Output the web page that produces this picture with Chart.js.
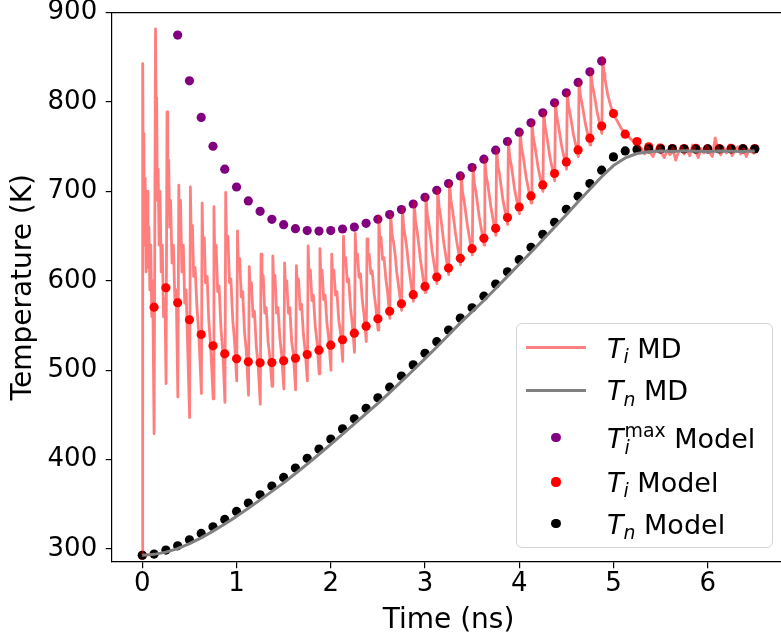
<!DOCTYPE html>
<html>
<head>
<meta charset="utf-8">
<script src="https://cdn.jsdelivr.net/npm/chart.js@4.4.0/dist/chart.umd.min.js"></script>
<style>
  html, body { margin: 0; padding: 0; background: #fff; overflow: hidden; }
  #wrap { position: relative; width: 781px; height: 641px; overflow: hidden; }
  #chart { position: absolute; left: 0; top: 0; }
  #legend {
    position: absolute; left: 516px; top: 323px; width: 257px; height: 225px;
    box-sizing: border-box; border: 1.3px solid #d4d4d4; border-radius: 6px;
    background: rgba(255, 255, 255, 0.8);
    font-family: "DejaVu Sans"; font-size: 27px; color: #000; z-index: 2;
  }
  .txt { position: absolute; left: 90px; line-height: 27px; white-space: nowrap; }
  .txt i { font-style: italic; }
  .sub { position: relative; top: 0.28em; font-size: 0.7em; font-style: italic; }
  .stack { position: relative; margin-left: 1px; }
  .stack .sup { position: relative; top: -0.55em; font-size: 0.7em; }
  .stack .under { position: absolute; left: 0; top: 15px; font-size: 0.7em; font-style: italic; line-height: 1; }
  .hline { position: absolute; left: 9px; width: 60px; height: 2.8px; }
  .dot { position: absolute; left: 34.4px; width: 9.2px; height: 9.2px; border-radius: 50%; }
</style>
</head>
<body>
<div id="wrap">
  <canvas id="chart" width="790" height="641"></canvas>
  <div id="legend">
    <div class="hline" style="top:22.3px; background:#ff8080;"></div>
    <div class="txt" style="top:10.7px;"><i>T</i><span class="sub">i</span> MD</div>

    <div class="hline" style="top:64.8px; height:3px; background:#808080;"></div>
    <div class="txt" style="top:53.3px;"><i>T</i><span class="sub">n</span> MD</div>

    <div class="dot" style="top:109.1px; background:#800080;"></div>
    <div class="txt" style="top:100.7px;"><i>T</i><span class="stack"><span class="sup">max</span><span class="under">i</span></span> Model</div>

    <div class="dot" style="top:153.4px; background:#ff0000;"></div>
    <div class="txt" style="top:145px;"><i>T</i><span class="sub">i</span> Model</div>

    <div class="dot" style="top:195.1px; background:#000;"></div>
    <div class="txt" style="top:186.7px;"><i>T</i><span class="sub">n</span> Model</div>
  </div>
</div>
<script>
// time axis of the model (ns)
const modelTime = [
  0, 0.125, 0.25, 0.375, 0.5, 0.625, 0.75, 0.875, 1.0, 1.125, 1.25, 1.375, 1.5, 1.625,
  1.75, 1.875, 2.0, 2.125, 2.25, 2.375, 2.5, 2.625, 2.75, 2.875, 3.0, 3.125, 3.25, 3.375,
  3.5, 3.625, 3.75, 3.875, 4.0, 4.125, 4.25, 4.375, 4.5, 4.625, 4.75, 4.875, 5.0, 5.125,
  5.25, 5.375, 5.5, 5.625, 5.75, 5.875, 6.0, 6.125, 6.25, 6.375, 6.5
];

// model temperatures (K)
const tnModel = [
  293, 294.3, 298.8, 303.6, 310.3, 317.4, 324.9, 333.1, 342.0, 351.4, 360.7, 370.5, 380.1, 390.6,
  401.4, 411.9, 423.1, 434.4, 445.6, 457.4, 469.1, 481.0, 493.5, 506.0, 519.0, 532.0, 545.0, 558.3,
  569.9, 582.9, 596.4, 610.2, 623.7, 637.5, 652.0, 665.5, 680.1, 694.6, 708.8, 723.8, 738.7, 745.4,
  747.0, 747.6, 747.4, 747.8, 747.5, 747.3, 747.6, 747.5, 747.4, 747.7, 747.5
];
const tiModel = [
  293, 570.6, 592.3, 575.5, 556.5, 540.0, 527.3, 518.4, 512.8, 509.4, 508.3, 508.6, 510.5, 513.4,
  517.6, 522.4, 528.0, 534.1, 541.5, 549.3, 557.6, 566.0, 574.4, 584.5, 593.8, 604.2, 614.3, 625.2,
  636.0, 647.6, 658.8, 670.8, 682.6, 695.0, 707.3, 720.1, 733.1, 746.5, 759.6, 773.2, 787.2, 764.1,
  755.8, 750.0, 748.5, 748.0, 748.0, 748.3, 747.8, 748.0, 748.2, 747.9, 748.0
];
const tiMaxModel = [
  null, null, null, 875.0, 823.8, 782.8, 750.6, 724.9, 705.0, 689.4, 677.8, 668.8, 662.9, 658.4,
  656.2, 655.7, 656.2, 658.0, 660.2, 664.4, 668.9, 674.1, 679.7, 686.0, 693.5, 701.3, 708.8, 717.4,
  726.8, 736.1, 746.2, 755.9, 766.3, 776.8, 788.0, 799.2, 810.4, 822.0, 833.9, 845.9, null, null,
  null, null, null, null, null, null, null, null, null, null, null
];

// MD neutral temperature, sampled on the model times (K)
const tnMd = [
  293, 294.0, 296.5, 300.5, 306.0, 312.5, 320.0, 328.0, 336.5, 345.5, 355.0, 364.5, 374.0, 384.5,
  395.0, 406.0, 417.0, 428.5, 440.0, 451.5, 463.0, 475.0, 487.5, 500.0, 513.0, 526.0, 539.5, 553.0,
  565.5, 578.0, 591.5, 605.0, 618.5, 632.0, 646.0, 660.0, 674.0, 688.5, 702.5, 716.5, 729.0, 737.5,
  742.5, 744.5, 745.2, 744.8, 745.5, 745.0, 744.6, 745.3, 745.0, 744.7, 745.2
];

// MD ion temperature: [time (ns), T (K)], one row per heating pulse
const tiMd = [
  [0, 293], [0.004, 843], [0.01, 700], [0.016, 765], [0.024, 640], [0.03, 715], [0.04, 610], [0.05, 700], [0.06, 615], [0.07, 660], [0.08, 590], [0.09, 640], [0.1, 560], [0.11, 600], [0.125, 429],
  [0.14, 882], [0.146, 790], [0.152, 805], [0.16, 690], [0.168, 725], [0.178, 640], [0.188, 700], [0.2, 610], [0.212, 640], [0.225, 560], [0.24, 580], [0.252, 485],
  [0.262, 789], [0.27, 720], [0.28, 735], [0.29, 660], [0.3, 690], [0.315, 620], [0.33, 640], [0.345, 580], [0.36, 590], [0.377, 470],
  [0.387, 707], [0.395, 640], [0.405, 690], [0.42, 610], [0.435, 640], [0.45, 575], [0.465, 590], [0.48, 530], [0.502, 447],
  [0.51, 705], [0.52, 640], [0.532, 662], [0.545, 605], [0.56, 615], [0.58, 570], [0.6, 540], [0.627, 474],
  [0.635, 687], [0.645, 628], [0.658, 648], [0.67, 598], [0.688, 605], [0.705, 556], [0.725, 528], [0.752, 468],
  [0.76, 683], [0.77, 622], [0.783, 640], [0.8, 588], [0.815, 594], [0.835, 546], [0.855, 520], [0.877, 464],
  [0.885, 699], [0.895, 636], [0.908, 650], [0.925, 598], [0.94, 602], [0.96, 556], [0.978, 534], [1.002, 488],
  [1.01, 656], [1.02, 612], [1.033, 625], [1.05, 582], [1.065, 588], [1.085, 542], [1.102, 524], [1.127, 472],
  [1.135, 616], [1.145, 588], [1.158, 598], [1.175, 560], [1.19, 566], [1.21, 526], [1.228, 508], [1.252, 462],
  [1.26, 630], [1.27, 596], [1.283, 606], [1.3, 564], [1.315, 570], [1.335, 532], [1.352, 516], [1.377, 482],
  [1.385, 628], [1.395, 596], [1.408, 606], [1.425, 564], [1.44, 570], [1.46, 536], [1.478, 518], [1.502, 479],
  [1.51, 620], [1.52, 590], [1.533, 600], [1.55, 564], [1.565, 570], [1.585, 532], [1.603, 518], [1.627, 478],
  [1.635, 617], [1.645, 594], [1.658, 602], [1.675, 568], [1.69, 574], [1.71, 540], [1.728, 522], [1.752, 488],
  [1.76, 639], [1.77, 604], [1.783, 612], [1.8, 578], [1.815, 584], [1.835, 550], [1.853, 533], [1.877, 496],
  [1.885, 636], [1.895, 605], [1.908, 612], [1.925, 579], [1.94, 584], [1.96, 552], [1.978, 536], [2.002, 500],
  [2.01, 630], [2.02, 605], [2.033, 612], [2.05, 584], [2.065, 588], [2.085, 556], [2.103, 542], [2.127, 510],
  [2.135, 650], [2.145, 620], [2.158, 626], [2.175, 599], [2.19, 602], [2.21, 570], [2.228, 552], [2.252, 520],
  [2.26, 653], [2.27, 625], [2.283, 630], [2.3, 604], [2.315, 608], [2.335, 578], [2.353, 562], [2.377, 532],
  [2.385, 647], [2.395, 626], [2.408, 630], [2.425, 608], [2.44, 611], [2.46, 586], [2.478, 571], [2.502, 545],
  [2.51, 673], [2.52, 645], [2.533, 649], [2.55, 624], [2.565, 626], [2.585, 602], [2.603, 587], [2.627, 558],
  [2.635, 675], [2.65, 652], [2.665, 644], [2.685, 628], [2.7, 610], [2.752, 567],
  [2.76, 681], [2.775, 659], [2.79, 650], [2.81, 634], [2.825, 618], [2.877, 577],
  [2.885, 688], [2.9, 666], [2.915, 657], [2.935, 640], [2.95, 625], [3.002, 587],
  [3.01, 695], [3.025, 674], [3.04, 665], [3.06, 648], [3.075, 634], [3.127, 597],
  [3.135, 702], [3.15, 682], [3.165, 673], [3.185, 656], [3.2, 642], [3.252, 607],
  [3.26, 710], [3.275, 690], [3.29, 681], [3.31, 665], [3.325, 652], [3.377, 618],
  [3.385, 719], [3.4, 698], [3.415, 690], [3.435, 674], [3.45, 662], [3.502, 629],
  [3.51, 728], [3.525, 708], [3.54, 700], [3.56, 684], [3.575, 672], [3.627, 640],
  [3.635, 737], [3.65, 717], [3.665, 709], [3.685, 694], [3.7, 682], [3.752, 651],
  [3.76, 747], [3.775, 728], [3.79, 720], [3.81, 704], [3.825, 692], [3.877, 663],
  [3.885, 757], [3.9, 738], [3.915, 730], [3.935, 715], [3.95, 703], [4.002, 675],
  [4.01, 767], [4.025, 749], [4.04, 741], [4.06, 726], [4.075, 715], [4.127, 687],
  [4.135, 778], [4.15, 760], [4.165, 752], [4.185, 738], [4.2, 727], [4.252, 700],
  [4.26, 789], [4.275, 772], [4.29, 764], [4.31, 750], [4.325, 739], [4.377, 712],
  [4.385, 800], [4.4, 783], [4.415, 775], [4.435, 761], [4.45, 751], [4.502, 725],
  [4.51, 811], [4.525, 795], [4.54, 787], [4.56, 774], [4.575, 764], [4.627, 739],
  [4.635, 823], [4.65, 807], [4.665, 799], [4.685, 787], [4.7, 777], [4.752, 752],
  [4.76, 835], [4.775, 819], [4.79, 812], [4.81, 800], [4.825, 790], [4.877, 765],
  [4.885, 850], [4.9, 832], [4.91, 826], [4.94, 808], [4.97, 796], [5.0, 786], [5.04, 779], [5.08, 771], [5.12, 765], [5.17, 760], [5.22, 755], [5.27, 751],
  [5.3, 748], [5.33, 742], [5.36, 750], [5.39, 744], [5.42, 739], [5.45, 747], [5.48, 752], [5.51, 743], [5.54, 738], [5.57, 746],
  [5.6, 741], [5.63, 749], [5.66, 735], [5.69, 744], [5.72, 750], [5.75, 742], [5.78, 747], [5.81, 740], [5.84, 752], [5.87, 745],
  [5.9, 738], [5.93, 748], [5.96, 743], [5.99, 751], [6.02, 744], [6.05, 739], [6.08, 760], [6.11, 747], [6.14, 741], [6.17, 749],
  [6.2, 743], [6.23, 752], [6.26, 740], [6.29, 746], [6.32, 750], [6.35, 742], [6.38, 748], [6.41, 739], [6.44, 747], [6.47, 744], [6.5, 742]
];

const xTicks = [0, 1, 2, 3, 4, 5, 6];
const yTicks = [300, 400, 500, 600, 700, 800, 900];

const FONT = "'DejaVu Sans'";

function pts(xs, ys) {
  return xs.map((x, i) => ({ x: x, y: ys[i] })).filter(p => p.y !== null);
}

// matplotlib-style frame: top and right spines
const frame = {
  id: 'frame',
  afterDraw(chart) {
    const { ctx, chartArea: a } = chart;
    ctx.save();
    ctx.strokeStyle = '#000';
    ctx.lineWidth = 1.2;
    ctx.beginPath();
    ctx.moveTo(a.left, a.top);
    ctx.lineTo(a.right, a.top);
    ctx.lineTo(a.right, a.bottom);
    ctx.stroke();
    ctx.restore();
  }
};

new Chart(document.getElementById('chart'), {
  type: 'scatter',
  data: {
    datasets: [
      {
        label: 'Ti MD',
        data: tiMd.map(p => ({ x: p[0], y: p[1] })),
        showLine: true,
        borderColor: 'rgba(255,0,0,0.5)',
        borderWidth: 2.8,
        borderJoinStyle: 'round',
        pointRadius: 0,
        order: 2
      },
      {
        label: 'Tn MD',
        data: pts(modelTime, tnMd),
        showLine: true,
        borderColor: '#808080',
        borderWidth: 3,
        borderJoinStyle: 'round',
        pointRadius: 0,
        order: 1
      },
      {
        label: 'Ti max Model',
        data: pts(modelTime, tiMaxModel),
        backgroundColor: '#800080',
        borderWidth: 0,
        pointRadius: 4.6,
        order: 5
      },
      {
        label: 'Ti Model',
        data: pts(modelTime, tiModel),
        backgroundColor: '#ff0000',
        borderWidth: 0,
        pointRadius: 4.6,
        order: 4
      },
      {
        label: 'Tn Model',
        data: pts(modelTime, tnModel),
        backgroundColor: '#000000',
        borderWidth: 0,
        pointRadius: 4.6,
        order: 3
      }
    ]
  },
  options: {
    responsive: false,
    animation: false,
    events: [],
    layout: { padding: { top: 12.7, right: 4.6, bottom: 0, left: 0 } },
    plugins: {
      legend: { display: false },
      tooltip: { enabled: false }
    },
    scales: {
      x: {
        type: 'linear',
        min: -0.325,
        max: 6.825,
        afterBuildTicks: s => { s.ticks = xTicks.map(v => ({ value: v })); },
        afterFit: s => { s.height = 79.3; s.paddingLeft = 0; s.paddingRight = 0; },
        ticks: { color: '#000', font: { family: FONT, size: 26, lineHeight: 1 }, padding: 3 },
        grid: { drawOnChartArea: false, tickLength: 6.5, color: '#000', lineWidth: 1.2 },
        border: { color: '#000', width: 1.2 },
        title: { display: true, text: 'Time (ns)', color: '#000', font: { family: FONT, size: 28 }, padding: { top: 0, bottom: 3 } }
      },
      y: {
        type: 'linear',
        min: 285.8,
        max: 900,
        afterBuildTicks: s => { s.ticks = yTicks.map(v => ({ value: v })); },
        afterFit: s => { s.width = 111.7; s.paddingTop = 0; s.paddingBottom = 0; },
        ticks: { color: '#000', font: { family: FONT, size: 26, lineHeight: 1 }, padding: 8.5 },
        grid: { drawOnChartArea: false, tickLength: 6, color: '#000', lineWidth: 1.2 },
        border: { color: '#000', width: 1.2 },
        title: { display: true, text: 'Temperature (K)', color: '#000', font: { family: FONT, size: 28 }, padding: { top: 7, bottom: 0 } }
      }
    }
  },
  plugins: [frame]
});
</script>
</body>
</html>
